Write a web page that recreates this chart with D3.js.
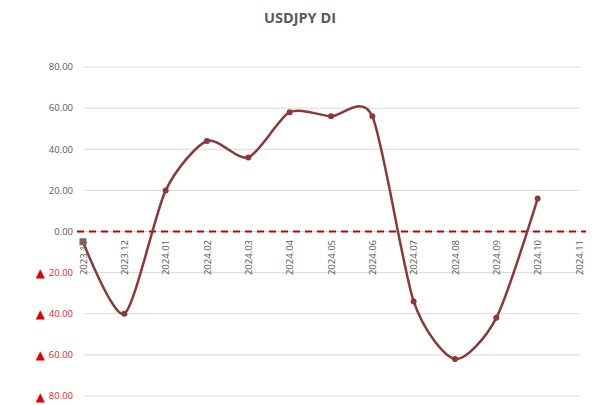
<!DOCTYPE html>
<html><head><meta charset="utf-8">
<script src="https://cdn.jsdelivr.net/npm/d3@7"></script>
<style>body{margin:0;background:#fff;}svg{display:block;font-family:"Open Sans",sans-serif;}</style>
</head><body><div id="chart"></div>
<script>
const categories = ["2023.11","2023.12","2024.01","2024.02","2024.03","2024.04","2024.05","2024.06","2024.07","2024.08","2024.09","2024.10","2024.11"];
const values = [-5, -40, 20, 44, 36, 58, 56, 56, -34, -62, -42, 16, null];
const yTicks = [80, 60, 40, 20, 0, -20, -40, -60, -80];
const title = "USDJPY DI";

const W = 600, H = 405;
const svg = d3.select("#chart").append("svg").attr("width", W).attr("height", H);
const x = d3.scalePoint().domain(categories).range([83, 579]);
const y = d3.scaleLinear().domain([-80, 80]).range([396, 67]);

svg.append("text").attr("x", 300).attr("y", 23).attr("text-anchor", "middle")
  .attr("font-size", 14.5).attr("font-weight", "bold").attr("fill", "#595959").text(title);

// gridlines
svg.append("g").selectAll("line").data(yTicks).join("line")
  .attr("x1", 84).attr("x2", 580).attr("y1", d => y(d)).attr("y2", d => y(d))
  .attr("stroke", "#d9d9d9").attr("stroke-width", 1);

// y labels
svg.append("g").selectAll("text").data(yTicks).join("text")
  .attr("x", 73).attr("y", d => y(d)).attr("dy", "0.35em").attr("text-anchor", "end")
  .attr("font-size", 9.5)
  .attr("fill", d => d < 0 ? "#e8212a" : "#595959")
  .text(d => Math.abs(d).toFixed(2));
svg.append("g").selectAll("text").data(yTicks.filter(d => d < 0)).join("text")
  .attr("x", 45).attr("y", d => y(d)).attr("dy", "0.38em").attr("text-anchor", "end")
  .attr("font-family", "DejaVu Sans").attr("font-size", 12).attr("fill", "#e00000").text("▲");

// x labels
svg.append("g").selectAll("text").data(categories).join("text")
  .attr("transform", d => `translate(${x(d) + 3.5},240) rotate(-90)`)
  .attr("text-anchor", "end").attr("font-size", 9.5).attr("fill", "#595959").text(d => d);

// zero dashed line
svg.append("line").attr("x1", 77).attr("x2", 586).attr("y1", y(0)).attr("y2", y(0))
  .attr("stroke", "#c00000").attr("stroke-width", 2).attr("stroke-dasharray", "7,5");

const pts = categories.map((c, i) => ({c, v: values[i]})).filter(d => d.v !== null);
const line = d3.line().x(d => x(d.c)).y(d => y(d.v)).curve(d3.curveCardinal.tension(0.25));
svg.append("path").attr("d", line(pts)).attr("fill", "none")
  .attr("stroke", "#8b3838").attr("stroke-width", 2.5);

svg.append("g").selectAll("circle").data(pts.slice(1)).join("circle")
  .attr("cx", d => x(d.c)).attr("cy", d => y(d.v)).attr("r", 3).attr("fill", "#8b3838");
svg.append("rect").attr("x", x(pts[0].c) - 3.5).attr("y", y(pts[0].v) - 3.5)
  .attr("width", 7).attr("height", 7).attr("fill", "#7f5f5f");
</script></body></html>
